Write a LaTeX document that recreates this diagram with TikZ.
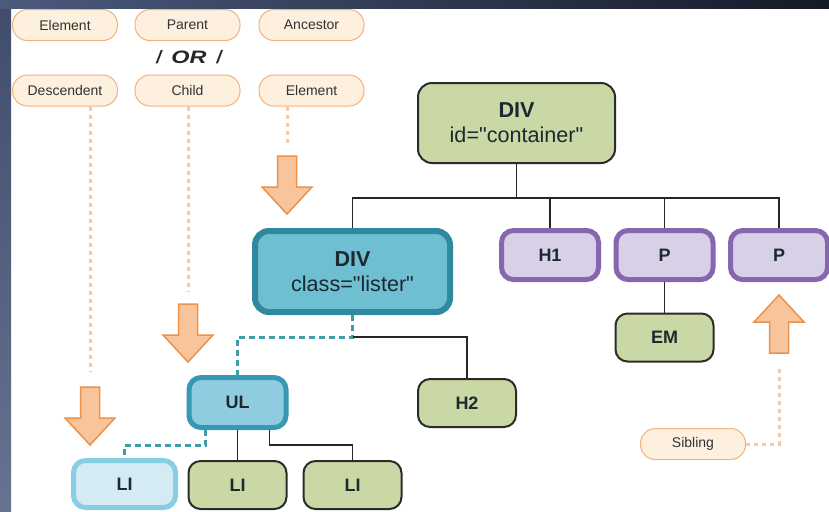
\documentclass[tikz,border=0pt]{standalone}
\usepackage{fontspec}
\setmainfont{Liberation Sans}[Ligatures=TeXOff]
\usepackage{tikz}

\definecolor{pillfill}{HTML}{FDF0DE}
\definecolor{pillline}{HTML}{F1B27C}
\definecolor{pilltext}{HTML}{333333}
\definecolor{arrowfill}{HTML}{F8C49C}
\definecolor{arrowline}{HTML}{EE9149}
\definecolor{hintcol}{HTML}{F5C9A6}
\definecolor{tealdashcol}{HTML}{3E9CAB}
\definecolor{tagtext}{HTML}{1C2A30}
\definecolor{greenfill}{HTML}{C9D8A4}
\definecolor{greenline}{HTML}{2B2B2B}
\definecolor{listerfill}{HTML}{6FBFD3}
\definecolor{listerline}{HTML}{2E889E}
\definecolor{ulfill}{HTML}{90CCE0}
\definecolor{ulline}{HTML}{3698B2}
\definecolor{lifill}{HTML}{D4EBF3}
\definecolor{liline}{HTML}{88CEE2}
\definecolor{purplefill}{HTML}{D8D0E6}
\definecolor{purpleline}{HTML}{8666AE}
\definecolor{bandleft}{HTML}{4B5A7E}
\definecolor{bandright}{HTML}{151A26}

\begin{document}
\begin{tikzpicture}[x=0.5pt, y=-0.5pt,
    pill/.style={draw=pillline, fill=pillfill, line width=0.5pt, rounded corners=7.5pt,
        minimum width=52.5pt, minimum height=15.5pt, inner sep=0pt, text=pilltext,
        font=\fontsize{7}{8}\selectfont},
    tag/.style={rounded corners=6pt, inner sep=0pt, text=tagtext, align=center,
        font=\bfseries\fontsize{9}{11}\selectfont},
    greentag/.style={tag, fill=greenfill, draw=greenline, line width=1pt,
        minimum width=49pt, minimum height=24pt},
    purpletag/.style={tag, fill=purplefill, draw=purpleline, line width=2.5pt,
        minimum width=48.5pt, minimum height=24.5pt},
    bigtag/.style={rounded corners=7pt, inner sep=0pt, text=tagtext, align=center,
        font=\fontsize{10.8}{12.5}\selectfont},
    treeline/.style={draw=black!85, line width=0.8pt},
    tealdash/.style={draw=tealdashcol, line width=1.5pt, dash pattern=on 3pt off 2pt},
    hintline/.style={draw=hintcol, line width=1.5pt, dash pattern=on 2pt off 2pt},
    blockarrow/.style={fill=arrowfill, draw=arrowline, line width=0.75pt, line join=miter}]

\useasboundingbox (0,0) rectangle (829,511);
\fill[white] (0,0) rectangle (829,511);
\shade[top color=bandleft!85!black, bottom color=bandleft!85!white] (0,0) rectangle (11,511);
\shade[left color=bandleft, right color=bandright] (0,0) rectangle (829,8);

\node[pill] (elemA) at (65,25) {Element};
\node[pill] (parent) at (187.5,25) {Parent};
\node[pill] (ancestor) at (311.5,25) {Ancestor};
\node[font=\bfseries\itshape\fontsize{9}{10}\selectfont, text=black!85] (or) at (189,57)
    {/\hspace{5pt}\scalebox{1.3}[1]{OR}\hspace{5pt}/};
\node[pill] (desc) at (65,90.5) {Descendent};
\node[pill] (child) at (187.5,90.5) {Child};
\node[pill] (elemB) at (311.5,90.5) {Element};
\node[pill] (sib) at (693,444) {Sibling};

\node[bigtag, fill=greenfill, draw=greenline, line width=1pt, minimum width=98.5pt, minimum height=40pt]
    (cont) at (516.5,123) {\textbf{DIV}\\id="container"};
\node[bigtag, fill=listerfill, draw=listerline, line width=3pt, minimum width=97.5pt, minimum height=40.5pt]
    (lister) at (352.5,271.5) {\textbf{DIV}\\class="lister"};
\node[purpletag] (h1) at (550,255) {H1};
\node[purpletag] (pa) at (664.5,255) {P};
\node[purpletag] (pb) at (779,255) {P};
\node[greentag] (em) at (664.5,337.5) {EM};
\node[greentag] (h2) at (467,403) {H2};
\node[tag, fill=ulfill, draw=ulline, line width=2.5pt, minimum width=48.5pt, minimum height=25pt]
    (ul) at (237.5,402.5) {UL};
\node[tag, fill=lifill, draw=liline, line width=2.5pt, minimum width=51pt, minimum height=23.5pt]
    (liA) at (124.5,484) {LI};
\node[greentag] (liB) at (237.5,485) {LI};
\node[greentag] (liC) at (352.5,485) {LI};

\foreach \n in {lister, h1, pa, pb}
    \draw[treeline] (cont.south) -- ++(0,34) -| (\n.north);
\draw[treeline] (pa.south) -- (em.north);
\draw[tealdash] (lister.south) -- ++(0,22) -| (ul.north);
\draw[treeline] (lister.south) ++(0,22) -| (h2.north);
\draw[treeline] (ul.south) -- (liB.north);
\draw[treeline] (ul.south) ++(32,0) -- ++(0,15) -| (liC.north);
\draw[tealdash] (ul.south) ++(-32,0) -- ++(0,15) -| (liA.north);

\coordinate (descEnd) at (90,372);
\coordinate (childEnd) at (188,291);
\coordinate (elemEnd) at (287,143);
\coordinate (sibEnd) at (779,368);
\draw[hintline] (desc.south -| descEnd) -- (descEnd);
\draw[hintline] (child.south -| childEnd) -- (childEnd);
\draw[hintline] (elemB.south -| elemEnd) -- (elemEnd);
\draw[hintline] (sib.east) -| (sibEnd);

\foreach \x/\y in {287/156, 188/304, 90/387}
    \draw[blockarrow] (\x-9.5,\y) -- (\x+9.5,\y) -- (\x+9.5,\y+31) -- (\x+25,\y+31)
        -- (\x,\y+58) -- (\x-25,\y+31) -- (\x-9.5,\y+31) -- cycle;
\draw[blockarrow] (769.5,353) -- (788.5,353) -- (788.5,322) -- (804,322) -- (779,295)
    -- (754,322) -- (769.5,322) -- cycle;
\end{tikzpicture}
\end{document}
